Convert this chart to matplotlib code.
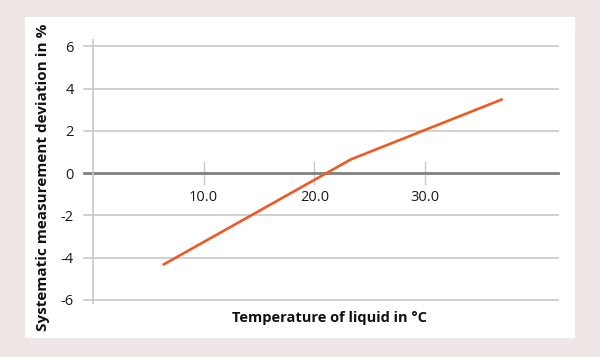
import matplotlib
matplotlib.use('Agg')
import matplotlib.pyplot as plt
from matplotlib.patches import Rectangle

# Data
temperature = [6.3, 23.3, 37.0]
deviation = [-4.35, 0.65, 3.5]
x_ticks = [10, 20, 30]
x_tick_labels = ['10.0', '20.0', '30.0']
y_ticks = [-6, -4, -2, 0, 2, 4, 6]

plt.rcParams['font.family'] = ['Open Sans', 'DejaVu Sans']
plt.rcParams['axes.unicode_minus'] = False

fig = plt.figure(figsize=(6, 3.57), dpi=100)
fig.patch.set_facecolor('#efe7e5')

# white card behind the chart
fig.patches.append(Rectangle((25 / 600, 1 - 338 / 357), 550 / 600, 321 / 357,
                             transform=fig.transFigure, facecolor='white',
                             edgecolor='none', zorder=-5))

ax = fig.add_axes([93 / 600, 1 - 303 / 357, 465 / 600, 263 / 357])
ax.set_facecolor('none')
ax.set_xlim(0, 42)
ax.set_ylim(-6.15, 6.3)

# horizontal grid, reaching a little left of the axis like tick marks
for y in y_ticks:
    if y == 0:
        continue
    ax.axhline(y, xmin=-0.0194, xmax=1, color='#c8c8c8', linewidth=1.2,
               clip_on=False, zorder=1)
ax.axhline(0, xmin=-0.0194, xmax=1, color='#808080', linewidth=2.0,
           clip_on=False, zorder=2)

ax.plot(temperature, deviation, color='#f05a22', linewidth=1.9,
        solid_capstyle='butt', zorder=3)

for side in ['top', 'right', 'bottom']:
    ax.spines[side].set_visible(False)
ax.spines['left'].set_color('#c8c8c8')
ax.spines['left'].set_linewidth(1.2)

ax.set_yticks(y_ticks)
ax.tick_params(axis='y', length=0, pad=14, labelsize=10.5, labelcolor='#1a1a1a')

# x ticks sit on the zero line
ax.spines['bottom'].set_position(('data', 0))
ax.set_xticks(x_ticks)
ax.set_xticklabels(x_tick_labels)
ax.tick_params(axis='x', direction='inout', length=17, width=1, color='#c8c8c8',
               pad=4, labelsize=10.5, labelcolor='#1a1a1a')

fig.text(43 / 600, 1 - 177.5 / 357, 'Systematic measurement deviation in %',
         rotation=90, ha='center', va='center', fontsize=11,
         fontweight='bold', color='#111111')
fig.text(330 / 600, 1 - 318 / 357, 'Temperature of liquid in °C',
         ha='center', va='center', fontsize=10.5, fontweight='bold',
         color='#111111')

fig.savefig('out.png', dpi=100, facecolor=fig.get_facecolor())
